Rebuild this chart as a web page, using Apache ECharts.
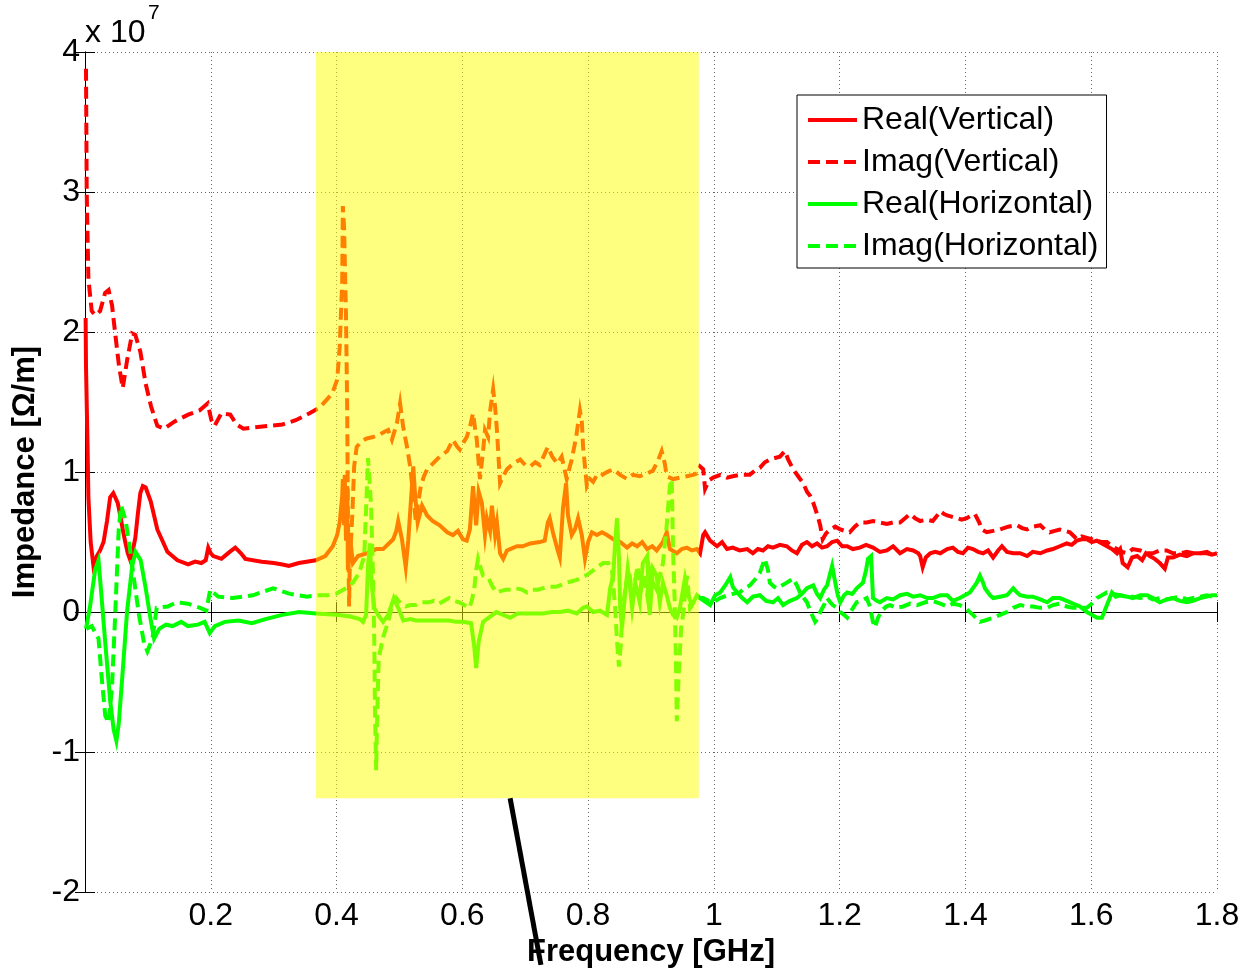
<!DOCTYPE html>
<html>
<head>
<meta charset="utf-8">
<script src="https://cdn.jsdelivr.net/npm/echarts@6/dist/echarts.min.js"></script>
<style>
html,body{margin:0;padding:0;background:#fff;overflow:hidden;}
#chart{width:1244px;height:973px;}
</style>
</head>
<body>
<div id="chart"></div>
<script>
// Values in units of 1e7 Ohm/m, frequency in GHz
const seriesNames = ['Real(Vertical)', 'Imag(Vertical)', 'Real(Horizontal)', 'Imag(Horizontal)'];
const xTicks = [0, 0.2, 0.4, 0.6, 0.8, 1.0, 1.2, 1.4, 1.6, 1.8];
const yTicks = [-2, -1, 0, 1, 2, 3, 4];
const yMultiplierBase = 'x 10';
const yMultiplierExp = '7';
const highlightBand = [[0.367, 0.976, -1.33, 4]];
const pointerLine = [[0.676, -1.33], [0.725, -2.52]];

const realVertical = [
[0.0010,2.10],[0.0016,1.75],[0.0040,1.20],[0.0054,0.82],[0.0090,0.50],[0.0134,0.33],[0.0188,0.40],[0.0240,0.44],[0.0295,0.50],[0.0350,0.65],[0.0400,0.82],[0.0450,0.85],[0.0480,0.84],[0.0520,0.78],[0.0560,0.69],[0.0600,0.59],[0.0640,0.50],[0.0680,0.42],[0.0720,0.37],[0.0760,0.44],[0.0800,0.53],[0.0840,0.70],[0.0880,0.85],[0.0920,0.90],[0.0965,0.89],[0.1046,0.79],[0.1150,0.59],[0.1310,0.43],[0.1470,0.37],[0.1640,0.34],[0.1750,0.36],[0.1850,0.35],[0.1920,0.37],[0.1960,0.46],[0.2000,0.42],[0.2040,0.40],[0.2170,0.38],[0.2300,0.43],[0.2390,0.46],[0.2480,0.42],[0.2550,0.38],[0.2810,0.36],[0.3000,0.35],[0.3140,0.34],[0.3240,0.33],[0.3400,0.35],[0.3670,0.37],
[0.369,0.38],[0.382,0.40],[0.394,0.47],[0.401,0.55],[0.405,0.64],[0.409,0.83],[0.410,0.95],[0.412,0.62],[0.413,0.98],[0.415,0.51],[0.417,0.90],[0.418,0.30],[0.421,0.55],[0.426,0.35],[0.434,0.40],[0.448,0.42],[0.463,0.45],[0.474,0.45],[0.490,0.52],[0.495,0.58],[0.498,0.65],[0.504,0.52],[0.510,0.32],[0.514,0.51],[0.517,0.71],[0.522,1.04],[0.525,0.83],[0.529,0.64],[0.536,0.76],[0.544,0.69],[0.553,0.65],[0.564,0.62],[0.576,0.57],[0.585,0.55],[0.593,0.58],[0.601,0.52],[0.607,0.51],[0.612,0.59],[0.617,0.90],[0.622,0.62],[0.626,0.86],[0.631,0.78],[0.636,0.55],[0.639,0.67],[0.644,0.58],[0.647,0.76],[0.652,0.55],[0.655,0.64],[0.660,0.42],[0.665,0.38],[0.671,0.44],[0.676,0.45],[0.687,0.47],[0.696,0.47],[0.708,0.49],[0.723,0.50],[0.731,0.51],[0.736,0.64],[0.739,0.67],[0.744,0.57],[0.751,0.45],[0.755,0.39],[0.760,0.74],[0.765,0.92],[0.768,0.69],[0.774,0.55],[0.779,0.59],[0.784,0.67],[0.790,0.55],[0.795,0.38],[0.800,0.50],[0.806,0.57],[0.814,0.55],[0.822,0.57],[0.830,0.55],[0.840,0.52],[0.851,0.50],[0.862,0.46],[0.870,0.49],[0.878,0.47],[0.886,0.50],[0.894,0.45],[0.902,0.47],[0.909,0.44],[0.919,0.50],[0.925,0.57],[0.930,0.45],[0.941,0.42],[0.949,0.45],[0.957,0.46],[0.965,0.44],[0.973,0.45],[0.978,0.42],
[0.983,0.55],[0.986,0.57],[0.994,0.51],[1.005,0.47],[1.013,0.50],[1.021,0.45],[1.030,0.46],[1.041,0.44],[1.053,0.45],[1.062,0.42],[1.070,0.45],[1.078,0.44],[1.086,0.47],[1.094,0.46],[1.105,0.48],[1.116,0.47],[1.124,0.44],[1.132,0.42],[1.140,0.48],[1.148,0.50],[1.156,0.47],[1.164,0.49],[1.172,0.46],[1.180,0.47],[1.188,0.50],[1.196,0.51],[1.204,0.47],[1.212,0.47],[1.221,0.45],[1.232,0.46],[1.242,0.48],[1.253,0.46],[1.264,0.43],[1.275,0.44],[1.285,0.47],[1.296,0.42],[1.307,0.45],[1.317,0.44],[1.325,0.42],[1.328,0.40],[1.332,0.32],[1.337,0.39],[1.344,0.42],[1.352,0.43],[1.360,0.42],[1.371,0.45],[1.380,0.46],[1.388,0.43],[1.396,0.42],[1.404,0.46],[1.412,0.45],[1.420,0.43],[1.428,0.42],[1.436,0.44],[1.444,0.39],[1.452,0.44],[1.458,0.47],[1.466,0.43],[1.476,0.42],[1.487,0.42],[1.498,0.40],[1.507,0.43],[1.519,0.42],[1.530,0.44],[1.539,0.45],[1.550,0.47],[1.561,0.49],[1.569,0.48],[1.577,0.51],[1.585,0.52],[1.593,0.52],[1.601,0.50],[1.609,0.51],[1.617,0.49],[1.625,0.47],[1.633,0.45],[1.641,0.42],[1.646,0.45],[1.650,0.35],[1.658,0.32],[1.665,0.39],[1.673,0.40],[1.681,0.37],[1.687,0.42],[1.693,0.40],[1.701,0.38],[1.709,0.35],[1.717,0.31],[1.722,0.39],[1.730,0.39],[1.741,0.41],[1.752,0.40],[1.762,0.42],[1.773,0.42],[1.784,0.43],[1.792,0.41],[1.800,0.42]
];

const imagVertical = [
[0.0016,3.88],[0.0027,3.00],[0.0054,2.38],[0.0107,2.15],[0.0161,2.12],[0.0240,2.15],[0.0320,2.28],[0.0375,2.30],[0.0430,2.19],[0.0480,1.99],[0.0540,1.76],[0.0600,1.60],[0.0670,1.80],[0.0750,1.99],[0.0800,1.98],[0.0880,1.86],[0.0965,1.63],[0.1050,1.47],[0.1150,1.33],[0.1260,1.31],[0.1420,1.36],[0.1640,1.41],[0.1820,1.44],[0.1950,1.49],[0.2010,1.37],[0.2060,1.33],[0.2170,1.42],[0.2310,1.41],[0.2410,1.34],[0.2520,1.31],[0.2710,1.32],[0.2920,1.33],[0.3140,1.34],[0.3350,1.37],[0.3570,1.42],[0.3730,1.46],
[0.393,1.56],[0.401,1.66],[0.405,1.89],[0.409,2.37],[0.410,2.90],[0.412,2.74],[0.415,2.12],[0.417,1.42],[0.418,0.69],[0.420,0.04],[0.421,0.33],[0.425,0.69],[0.428,1.04],[0.432,1.18],[0.440,1.22],[0.448,1.24],[0.458,1.25],[0.469,1.27],[0.477,1.29],[0.482,1.30],[0.488,1.23],[0.496,1.35],[0.501,1.49],[0.506,1.32],[0.512,1.18],[0.517,1.04],[0.522,0.83],[0.526,0.65],[0.529,0.76],[0.534,0.90],[0.539,0.97],[0.544,1.02],[0.553,1.06],[0.564,1.11],[0.576,1.15],[0.585,1.23],[0.592,1.18],[0.596,1.16],[0.603,1.22],[0.607,1.25],[0.612,1.32],[0.617,1.42],[0.620,1.32],[0.623,1.23],[0.628,0.95],[0.633,1.15],[0.636,1.30],[0.641,1.25],[0.644,1.43],[0.649,1.59],[0.652,1.47],[0.655,1.30],[0.660,0.92],[0.665,0.97],[0.671,1.02],[0.681,1.06],[0.692,1.09],[0.700,1.05],[0.708,1.04],[0.716,1.07],[0.723,1.05],[0.731,1.13],[0.736,1.18],[0.743,1.11],[0.751,1.06],[0.758,1.11],[0.766,0.95],[0.771,1.04],[0.774,1.09],[0.781,1.25],[0.787,1.44],[0.790,1.36],[0.792,1.18],[0.795,1.04],[0.798,0.90],[0.803,0.95],[0.808,0.93],[0.814,0.98],[0.819,0.97],[0.830,1.00],[0.840,1.02],[0.851,0.98],[0.862,0.95],[0.871,0.98],[0.882,0.97],[0.894,0.99],[0.903,1.01],[0.911,1.08],[0.917,1.15],[0.922,1.06],[0.925,0.97],[0.935,0.95],[0.946,0.96],[0.957,0.97],[0.967,0.98],[0.973,0.99],[0.978,1.04],
[0.983,1.02],[0.986,0.88],[0.992,0.94],[0.999,0.96],[1.010,0.98],[1.021,0.96],[1.030,0.97],[1.041,0.98],[1.057,0.98],[1.065,1.01],[1.073,1.03],[1.081,1.07],[1.089,1.09],[1.097,1.10],[1.105,1.11],[1.113,1.15],[1.118,1.09],[1.126,1.02],[1.134,0.97],[1.142,0.92],[1.148,0.86],[1.153,0.83],[1.158,0.78],[1.161,0.74],[1.166,0.67],[1.169,0.62],[1.173,0.52],[1.178,0.56],[1.185,0.59],[1.193,0.61],[1.201,0.59],[1.208,0.58],[1.216,0.57],[1.224,0.61],[1.232,0.64],[1.243,0.64],[1.253,0.65],[1.264,0.64],[1.275,0.63],[1.285,0.64],[1.296,0.64],[1.304,0.67],[1.312,0.70],[1.320,0.67],[1.328,0.65],[1.339,0.66],[1.348,0.65],[1.355,0.69],[1.360,0.72],[1.366,0.70],[1.371,0.69],[1.379,0.68],[1.387,0.67],[1.394,0.66],[1.402,0.67],[1.409,0.69],[1.415,0.70],[1.422,0.64],[1.426,0.59],[1.434,0.57],[1.444,0.58],[1.455,0.59],[1.468,0.61],[1.482,0.62],[1.490,0.60],[1.498,0.59],[1.507,0.61],[1.519,0.62],[1.526,0.59],[1.534,0.57],[1.542,0.58],[1.550,0.59],[1.558,0.58],[1.566,0.57],[1.573,0.54],[1.577,0.52],[1.585,0.54],[1.593,0.53],[1.601,0.52],[1.609,0.51],[1.617,0.50],[1.625,0.50],[1.633,0.47],[1.641,0.45],[1.649,0.43],[1.657,0.42],[1.666,0.45],[1.678,0.44],[1.689,0.42],[1.698,0.42],[1.709,0.44],[1.720,0.44],[1.730,0.42],[1.741,0.42],[1.752,0.43],[1.762,0.42],[1.773,0.42],[1.784,0.42],[1.792,0.41],[1.800,0.40]
];

const realHorizontal = [
[0.0016,-0.12],[0.0080,0.04],[0.0161,0.30],[0.0215,0.37],[0.0252,0.17],[0.0322,-0.22],[0.0402,-0.64],[0.0456,-0.84],[0.0499,-0.92],[0.0536,-0.80],[0.0590,-0.48],[0.0670,0.01],[0.0751,0.33],[0.0804,0.43],[0.0885,0.37],[0.0965,0.17],[0.1046,-0.06],[0.1099,-0.19],[0.1180,-0.12],[0.1287,-0.09],[0.1394,-0.10],[0.1528,-0.07],[0.1635,-0.10],[0.1796,-0.09],[0.1903,-0.07],[0.1984,-0.15],[0.2064,-0.10],[0.2225,-0.07],[0.2440,-0.06],[0.2654,-0.08],[0.2869,-0.05],[0.3137,-0.02],[0.3405,0.00],[0.3673,-0.01],
[0.399,-0.02],[0.420,-0.03],[0.437,-0.05],[0.442,-0.07],[0.447,-0.02],[0.450,0.33],[0.453,0.49],[0.456,0.19],[0.460,0.03],[0.466,-0.02],[0.474,-0.07],[0.482,-0.02],[0.488,0.06],[0.491,0.10],[0.498,0.03],[0.506,-0.06],[0.517,-0.05],[0.526,-0.06],[0.541,-0.06],[0.553,-0.06],[0.566,-0.06],[0.579,-0.06],[0.590,-0.07],[0.601,-0.07],[0.614,-0.08],[0.619,-0.25],[0.622,-0.40],[0.626,-0.21],[0.633,-0.07],[0.642,-0.04],[0.654,0.00],[0.665,-0.02],[0.676,-0.04],[0.688,-0.01],[0.703,-0.01],[0.716,-0.01],[0.728,-0.01],[0.743,0.00],[0.755,0.00],[0.768,0.01],[0.782,-0.01],[0.792,0.03],[0.798,0.04],[0.808,0.00],[0.819,0.01],[0.830,-0.02],[0.835,0.17],[0.840,0.26],[0.843,0.50],[0.846,0.67],[0.849,0.40],[0.851,0.03],[0.854,-0.11],[0.859,0.14],[0.863,0.31],[0.867,0.16],[0.870,0.03],[0.875,0.21],[0.882,0.07],[0.887,0.35],[0.894,0.40],[0.898,-0.02],[0.903,0.31],[0.909,0.26],[0.914,0.07],[0.919,0.21],[0.925,0.12],[0.930,0.03],[0.935,-0.02],[0.941,-0.04],[0.946,0.03],[0.954,0.24],[0.959,0.12],[0.965,0.05],[0.973,0.12],[0.978,0.10],
[0.994,0.05],[1.002,0.12],[1.010,0.14],[1.018,0.19],[1.026,0.25],[1.030,0.18],[1.037,0.14],[1.045,0.10],[1.053,0.07],[1.062,0.11],[1.073,0.12],[1.083,0.08],[1.094,0.07],[1.102,0.10],[1.110,0.05],[1.121,0.08],[1.132,0.10],[1.140,0.13],[1.148,0.17],[1.158,0.19],[1.164,0.13],[1.169,0.10],[1.175,0.16],[1.180,0.19],[1.185,0.28],[1.188,0.33],[1.193,0.21],[1.197,0.12],[1.201,0.07],[1.207,0.12],[1.212,0.14],[1.220,0.13],[1.227,0.17],[1.237,0.21],[1.242,0.30],[1.245,0.38],[1.250,0.40],[1.253,0.10],[1.259,0.08],[1.264,0.07],[1.275,0.10],[1.285,0.09],[1.296,0.12],[1.307,0.13],[1.317,0.11],[1.328,0.12],[1.339,0.10],[1.348,0.10],[1.360,0.12],[1.371,0.12],[1.380,0.08],[1.391,0.10],[1.399,0.12],[1.407,0.14],[1.415,0.19],[1.418,0.21],[1.423,0.26],[1.428,0.21],[1.431,0.17],[1.439,0.12],[1.444,0.10],[1.455,0.11],[1.466,0.12],[1.476,0.17],[1.482,0.14],[1.487,0.12],[1.498,0.11],[1.507,0.11],[1.519,0.09],[1.530,0.07],[1.539,0.10],[1.550,0.10],[1.561,0.08],[1.571,0.06],[1.582,0.04],[1.593,0.00],[1.601,-0.02],[1.609,-0.04],[1.617,-0.04],[1.625,0.05],[1.633,0.14],[1.639,0.11],[1.646,0.12],[1.657,0.11],[1.666,0.10],[1.678,0.12],[1.689,0.12],[1.698,0.10],[1.709,0.07],[1.720,0.09],[1.730,0.10],[1.741,0.08],[1.752,0.07],[1.762,0.08],[1.773,0.10],[1.784,0.11],[1.792,0.12],[1.800,0.12]
];

const imagHorizontal = [
[0.0021,-0.12],[0.0107,-0.10],[0.0215,-0.19],[0.0268,-0.48],[0.0322,-0.74],[0.0375,-0.79],[0.0429,-0.54],[0.0483,0.01],[0.0536,0.59],[0.0574,0.76],[0.0643,0.66],[0.0713,0.46],[0.0777,0.24],[0.0858,-0.02],[0.0938,-0.22],[0.0992,-0.28],[0.1072,-0.19],[0.1140,0.03],[0.1314,0.04],[0.1460,0.07],[0.1635,0.06],[0.1830,0.03],[0.1930,0.01],[0.1990,0.16],[0.2118,0.11],[0.2350,0.10],[0.2670,0.12],[0.2990,0.17],[0.3260,0.13],[0.3530,0.11],[0.3690,0.12],
[0.372,0.11],[0.385,0.12],[0.399,0.13],[0.415,0.17],[0.426,0.21],[0.436,0.28],[0.444,0.40],[0.447,0.74],[0.450,1.10],[0.453,0.90],[0.455,0.74],[0.458,0.26],[0.460,-0.21],[0.461,-0.68],[0.463,-1.13],[0.464,-0.87],[0.467,-0.33],[0.474,-0.18],[0.482,-0.07],[0.488,0.04],[0.495,0.10],[0.502,0.06],[0.510,0.04],[0.518,0.05],[0.526,0.05],[0.536,0.07],[0.547,0.07],[0.555,0.08],[0.563,0.06],[0.571,0.08],[0.579,0.10],[0.587,0.08],[0.595,0.07],[0.603,0.05],[0.611,0.03],[0.615,0.08],[0.619,0.17],[0.622,0.30],[0.625,0.38],[0.628,0.33],[0.633,0.26],[0.638,0.25],[0.642,0.24],[0.647,0.19],[0.654,0.14],[0.661,0.15],[0.669,0.16],[0.677,0.16],[0.685,0.17],[0.695,0.16],[0.703,0.14],[0.712,0.16],[0.720,0.16],[0.728,0.17],[0.739,0.18],[0.749,0.18],[0.755,0.19],[0.766,0.21],[0.774,0.22],[0.782,0.23],[0.792,0.25],[0.803,0.28],[0.814,0.32],[0.824,0.35],[0.832,0.35],[0.838,0.30],[0.843,0.03],[0.846,-0.21],[0.849,-0.39],[0.852,-0.23],[0.855,0.03],[0.860,0.19],[0.865,0.30],[0.870,0.12],[0.875,0.23],[0.879,0.33],[0.884,0.16],[0.889,0.26],[0.894,0.12],[0.898,0.30],[0.903,0.21],[0.909,0.16],[0.914,0.26],[0.919,0.35],[0.925,0.62],[0.930,0.90],[0.933,0.95],[0.935,0.45],[0.938,0.03],[0.940,-0.45],[0.941,-0.78],[0.944,-0.45],[0.948,-0.11],[0.951,-0.02],[0.954,0.12],[0.957,0.26],[0.962,0.03],[0.967,0.07],[0.973,0.10],[0.978,0.10],
[0.983,0.10],[0.991,0.08],[0.999,0.07],[1.010,0.10],[1.021,0.12],[1.030,0.13],[1.041,0.14],[1.049,0.17],[1.057,0.19],[1.065,0.23],[1.073,0.28],[1.081,0.38],[1.086,0.30],[1.089,0.21],[1.096,0.18],[1.100,0.17],[1.108,0.19],[1.116,0.21],[1.126,0.24],[1.132,0.19],[1.137,0.14],[1.143,0.10],[1.148,0.07],[1.154,0.00],[1.161,-0.07],[1.166,-0.04],[1.169,0.00],[1.175,0.05],[1.180,0.10],[1.185,0.07],[1.189,0.05],[1.196,0.03],[1.201,0.00],[1.207,-0.02],[1.212,-0.04],[1.220,0.02],[1.227,0.07],[1.235,0.08],[1.243,0.10],[1.248,0.04],[1.253,-0.07],[1.256,-0.11],[1.261,-0.04],[1.267,0.01],[1.274,0.04],[1.280,0.05],[1.290,0.03],[1.301,0.04],[1.312,0.06],[1.323,0.05],[1.336,0.07],[1.348,0.08],[1.360,0.06],[1.371,0.04],[1.380,0.06],[1.391,0.05],[1.402,0.02],[1.412,-0.02],[1.423,-0.07],[1.431,-0.06],[1.444,-0.04],[1.455,-0.02],[1.466,0.00],[1.476,0.03],[1.487,0.05],[1.498,0.04],[1.507,0.04],[1.519,0.03],[1.530,0.03],[1.539,0.05],[1.550,0.06],[1.561,0.04],[1.571,0.03],[1.582,0.03],[1.593,0.03],[1.601,0.06],[1.609,0.10],[1.617,0.12],[1.625,0.14],[1.634,0.13],[1.646,0.12],[1.657,0.11],[1.666,0.11],[1.678,0.10],[1.689,0.11],[1.698,0.09],[1.709,0.10],[1.720,0.09],[1.730,0.10],[1.741,0.11],[1.752,0.09],[1.762,0.10],[1.773,0.11],[1.784,0.12],[1.792,0.11],[1.800,0.11]
];

const FONT = "'Liberation Sans', Arial, Helvetica, sans-serif";
const chart = echarts.init(document.getElementById('chart'), null, { renderer: 'canvas' });

const RED = '#ff0000', GREEN = '#00ff00';
const DASH = [12, 6];
function lineSeries(name, data, color, dashed) {
  return {
    name: name, type: 'line', data: data, symbol: 'none', showSymbol: false,
    smooth: false, sampling: null, animation: false, z: 2,
    lineStyle: { color: color, width: 4, type: dashed ? DASH : 'solid', join: 'miter', cap: 'butt' },
    itemStyle: { color: color },
    emphasis: { disabled: true }
  };
}

const option = {
  animation: false,
  backgroundColor: '#ffffff',
  grid: { left: 85, top: 52, width: 1132, height: 847, containLabel: false },
  graphic: [
    { type: 'text', left: 85, top: 17, style: { text: yMultiplierBase, font: "32px " + FONT, fill: '#000' } },
    { type: 'text', left: 148, top: 3, style: { text: yMultiplierExp, font: "21px " + FONT, fill: '#000' } }
  ],
  legend: {
    data: seriesNames,
    orient: 'vertical', left: 797, top: 95, align: 'left',
    itemWidth: 49, itemHeight: 14, itemGap: 10,
    padding: [9, 8, 6, 9],
    backgroundColor: '#ffffff', borderColor: '#000000', borderWidth: 1,
    itemStyle: { opacity: 0 },
    lineStyle: { width: 4 },
    textStyle: { fontFamily: FONT, fontSize: 32, color: '#000', lineHeight: 32 },
    selectedMode: false
  },
  xAxis: [{
    type: 'value', min: xTicks[0], max: xTicks[xTicks.length - 1], interval: 0.2,
    position: 'bottom',
    name: 'Frequency [GHz]', nameLocation: 'middle', nameGap: 42,
    nameTextStyle: { fontFamily: FONT, fontSize: 31, fontWeight: 'bold', color: '#000' },
    axisLine: { show: true, lineStyle: { color: '#000', width: 1 } },
    axisTick: { show: true, inside: true, length: 10, lineStyle: { color: '#000' } },
    axisLabel: { margin: 8, fontFamily: FONT, fontSize: 32, color: '#000',
      formatter: v => (Math.abs(v) < 1e-9 ? '' : String(+v.toFixed(1))) },
    splitLine: { show: true, lineStyle: { color: '#666', width: 1, type: [1, 3] } }
  }, {
    type: 'value', min: xTicks[0], max: xTicks[xTicks.length - 1], interval: 0.2,
    position: 'top',
    axisLine: { show: true, lineStyle: { color: '#000', width: 1 } },
    axisTick: { show: true, inside: true, length: 10, lineStyle: { color: '#000' } },
    axisLabel: { show: false }, splitLine: { show: false }
  }],
  yAxis: [{
    type: 'value', min: yTicks[0], max: yTicks[yTicks.length - 1], interval: 1,
    position: 'left',
    name: 'Impedance [Ω/m]', nameLocation: 'middle', nameGap: 41,
    nameTextStyle: { fontFamily: FONT, fontSize: 31, fontWeight: 'bold', color: '#000' },
    axisLine: { show: true, lineStyle: { color: '#000', width: 1 } },
    axisTick: { show: true, inside: true, length: 10, lineStyle: { color: '#000' } },
    axisLabel: { margin: 5, fontFamily: FONT, fontSize: 32, color: '#000' },
    splitLine: { show: true, lineStyle: { color: '#666', width: 1, type: [1, 3] } }
  }, {
    type: 'value', min: yTicks[0], max: yTicks[yTicks.length - 1], interval: 1,
    position: 'right',
    axisLine: { show: true, lineStyle: { color: '#000', width: 1 } },
    axisTick: { show: true, inside: true, length: 10, lineStyle: { color: '#000' } },
    axisLabel: { show: false }, splitLine: { show: false }
  }],
  series: [
    lineSeries(seriesNames[0], realVertical, RED, false),
    lineSeries(seriesNames[1], imagVertical, RED, true),
    lineSeries(seriesNames[2], realHorizontal, GREEN, false),
    lineSeries(seriesNames[3], imagHorizontal, GREEN, true),
    {
      name: 'highlight', type: 'custom', data: highlightBand, z: 10, silent: true, animation: false,
      encode: { x: [0, 1], y: [2, 3] },
      renderItem: function (params, api) {
        const p1 = api.coord([api.value(0), api.value(3)]);
        const p2 = api.coord([api.value(1), api.value(2)]);
        return {
          type: 'rect',
          shape: { x: p1[0], y: p1[1], width: p2[0] - p1[0], height: p2[1] - p1[1] },
          style: { fill: 'rgba(255,255,0,0.5)' }
        };
      }
    },
    {
      name: 'pointer', type: 'line', data: pointerLine, z: 20, clip: false,
      symbol: 'none', silent: true, animation: false,
      lineStyle: { color: '#000', width: 5, type: 'solid' }
    }
  ]
};
chart.setOption(option);
</script>
</body>
</html>
